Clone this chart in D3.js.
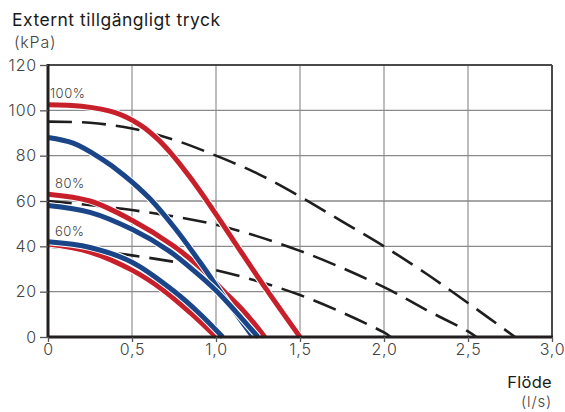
<!DOCTYPE html>
<html>
<head>
<meta charset="utf-8">
<script src="https://cdn.jsdelivr.net/npm/d3@7"></script>
<style>
  body { margin: 0; background: #fff; }
  text { font-family: Inter, "Noto Sans", sans-serif; }
</style>
</head>
<body>
<script>
// values: [flow l/s, pressure kPa]
var red100 = [[0,102.5],[0.2,101.8],[0.4,99],[0.55,93.5],[0.65,87.5],[0.75,79.5],[0.85,70],[0.96,58.5],[1.1,43],[1.3,21],[1.5,0]];
var blue100 = [[0,88],[0.15,85.5],[0.31,79],[0.45,71.5],[0.6,61.5],[0.75,48.5],[0.9,33.5],[1.05,17.5],[1.22,0]];
var red80 = [[0,63],[0.25,60],[0.5,51.5],[0.75,40],[0.9,31],[1.05,20],[1.17,11],[1.29,0]];
var blue80 = [[0,58],[0.25,55],[0.5,47.5],[0.72,38],[0.88,28.5],[1.0,20.5],[1.12,11],[1.25,0]];
var red60 = [[0,41],[0.25,37.5],[0.5,29.5],[0.68,21],[0.85,10.5],[1.0,0]];
var blue60 = [[0,42],[0.25,39.5],[0.5,33],[0.745,20.5],[0.9,10.5],[1.04,0]];
var dash100 = [[0,95],[0.25,94.5],[0.5,92],[0.75,87],[1.0,80],[1.25,72],[1.5,62],[1.75,51],[2.0,40],[2.25,28],[2.5,15],[2.78,0]];
var dash80 = [[0,60],[0.5,56],[1.0,49.5],[1.5,38],[2.0,22],[2.25,12],[2.5,2.5],[2.55,0]];
var dash60 = [[0,40],[0.5,36],[1.0,29.5],[1.5,18.5],[2.0,2],[2.04,0]];

var xTicks = [0, 0.5, 1, 1.5, 2, 2.5, 3];
var xTickLabels = ["0", "0,5", "1,0", "1,5", "2,0", "2,5", "3,0"];
var yTicks = [0, 20, 40, 60, 80, 100, 120];
var percentLabels = ["100%", "80%", "60%"];
var percentAt = [103, 63, 42];

var width = 565,
    height = 412;

var x = d3.scaleLinear().domain([0, 3]).range([48, 552]);
var y = d3.scaleLinear().domain([0, 120]).range([337, 65]);

var svg = d3.select("body").append("svg")
    .attr("width", width)
    .attr("height", height);

// grid
svg.append("g")
    .selectAll("line")
    .data(xTicks.slice(1, -1))
    .enter().append("line")
    .attr("x1", d => x(d)).attr("x2", d => x(d))
    .attr("y1", y(120)).attr("y2", y(0))
    .attr("stroke", "#9a9a9a")
    .attr("stroke-width", 1.3);

svg.append("g")
    .selectAll("line")
    .data(yTicks.slice(1, -1))
    .enter().append("line")
    .attr("x1", x(0)).attr("x2", x(3))
    .attr("y1", d => y(d)).attr("y2", d => y(d))
    .attr("stroke", "#8a8a8a")
    .attr("stroke-width", 1.3);

// frame top / right
svg.append("line")
    .attr("x1", x(0)).attr("x2", x(3)).attr("y1", y(120)).attr("y2", y(120))
    .attr("stroke", "#4a4a4a").attr("stroke-width", 2);
svg.append("line")
    .attr("x1", x(3)).attr("x2", x(3)).attr("y1", y(120)).attr("y2", y(0))
    .attr("stroke", "#4a4a4a").attr("stroke-width", 2);

var line = d3.line()
    .x(d => x(d[0]))
    .y(d => y(d[1]))
    .curve(d3.curveCatmullRom.alpha(0.5));

// dashed system curves
[dash100, dash80, dash60].forEach(function(d) {
  svg.append("path")
      .attr("d", line(d))
      .attr("fill", "none")
      .attr("stroke", "#1e1e1e")
      .attr("stroke-width", 2.6)
      .attr("stroke-dasharray", "24,10");
});

// fan curves, white halo under each
var curves = [
  [red100, "#c8202b"], [red80, "#c8202b"], [red60, "#c8202b"],
  [blue100, "#1b4589"], [blue80, "#1b4589"], [blue60, "#1b4589"]
];
curves.forEach(function(c) {
  svg.append("path")
      .attr("d", line(c[0]))
      .attr("fill", "none")
      .attr("stroke", "#fff")
      .attr("stroke-width", 7);
  svg.append("path")
      .attr("d", line(c[0]))
      .attr("fill", "none")
      .attr("stroke", c[1])
      .attr("stroke-width", 5);
});

// axes
var yAxis = svg.append("g")
    .attr("transform", "translate(" + x(0) + ",0)")
    .call(d3.axisLeft(y).tickValues(yTicks).tickSize(8).tickPadding(3));
var xAxis = svg.append("g")
    .attr("transform", "translate(0," + y(0) + ")")
    .call(d3.axisBottom(x).tickValues(xTicks).tickSize(5).tickPadding(2)
      .tickFormat((d, i) => xTickLabels[i]));

[yAxis, xAxis].forEach(function(a) {
  a.select(".domain").attr("stroke", "#231f20").attr("stroke-width", 3);
  a.selectAll(".tick line").attr("stroke", "#555").attr("stroke-width", 1.3);
  a.selectAll(".tick text")
      .attr("fill", "#444")
      .attr("font-size", 16)
      .attr("font-family", "Inter, sans-serif")
      .attr("font-weight", 300)
      .attr("letter-spacing", 0.8);
});
yAxis.select(".domain").attr("d", "M0," + y(0) + "V" + (y(120) - 1));
xAxis.select(".domain").attr("d", "M" + x(0) + ",0H" + (x(3) + 1));

// percent labels
svg.selectAll(".pct")
    .data(percentLabels)
    .enter().append("text")
    .attr("class", "pct")
    .attr("x", (d, i) => i == 0 ? 50 : 55)
    .attr("y", (d, i) => y(percentAt[i]) - 6)
    .attr("fill", "#444")
    .attr("font-size", 13)
    .attr("font-weight", 300)
    .attr("letter-spacing", 0.5)
    .text(d => d);

// titles
svg.append("text")
    .attr("x", 12).attr("y", 26)
    .attr("fill", "#1a1a1a")
    .attr("font-size", 17.5)
    .attr("letter-spacing", 0.5)
    .text("Externt tillgängligt tryck");
svg.append("text")
    .attr("x", 14).attr("y", 48)
    .attr("fill", "#444")
    .attr("font-size", 16)
    .attr("font-weight", 300)
    .attr("letter-spacing", 0.8)
    .text("(kPa)");
svg.append("text")
    .attr("x", 552).attr("y", 388)
    .attr("text-anchor", "end")
    .attr("fill", "#1a1a1a")
    .attr("font-size", 16.5)
    .attr("letter-spacing", 0.3)
    .text("Flöde");
svg.append("text")
    .attr("x", 552).attr("y", 407)
    .attr("text-anchor", "end")
    .attr("fill", "#444")
    .attr("font-size", 15)
    .attr("font-weight", 300)
    .attr("letter-spacing", 0.8)
    .text("(l/s)");
</script>
</body>
</html>
